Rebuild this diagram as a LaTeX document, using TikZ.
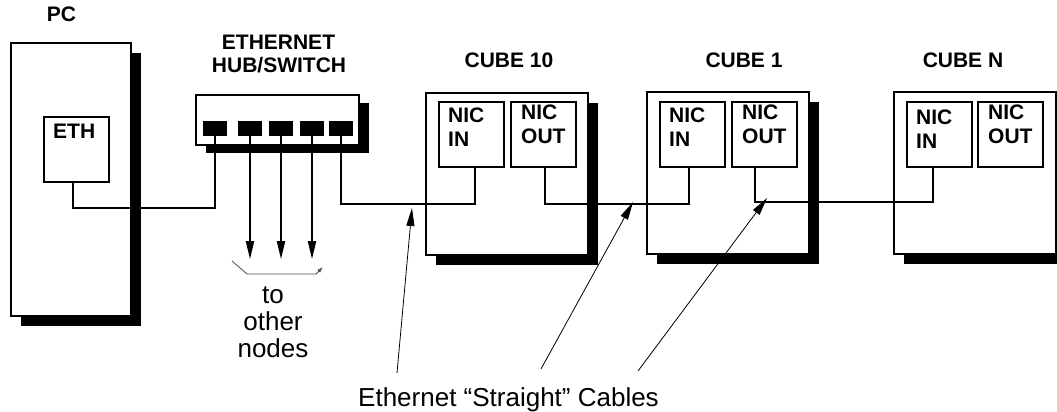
\documentclass[tikz,border=0pt]{standalone}
\usepackage{fontspec}
\setmainfont{Liberation Sans}
\usetikzlibrary{shadows,arrows.meta}
\begin{document}
\begin{tikzpicture}[x=1pt,y=-1pt,
  box/.style={draw, line width=2pt, fill=white, inner sep=0pt},
  shadowed/.style={drop shadow={shadow xshift=10pt, shadow yshift=-10pt, opacity=1, fill=black}},
  nic/.style={box, minimum width=65pt, minimum height=65pt},
  cube/.style={box, shadowed, minimum width=162pt, minimum height=162pt},
  port/.style={fill=black, inner sep=0pt, minimum width=24pt, minimum height=15pt},
  lbl/.style={font=\fontsize{21}{24}\selectfont\bfseries, inner sep=0pt},
  note/.style={font=\fontsize{26}{28}\selectfont, inner sep=0pt},
  cable/.style={line width=2pt},
  lead/.style={line width=0.8pt, -{Triangle[length=18pt,width=8pt]}},
  fanout/.style={line width=2pt, -{Triangle[length=18pt,width=8pt]}},
  bracket/.style={line width=0.8pt, black!70, -{Latex[length=6pt,width=4pt]}},
]
\useasboundingbox (0,0) rectangle (1057,412);
\clip (0,0) rectangle (1057,412);

% PC
\node[lbl, anchor=base] (pclbl) at (61.5,22) {PC};
\node[box, shadowed, minimum width=120pt, minimum height=273pt] (pc) at (71,179.5) {};
\node[nic] (eth) at (76.5,149.5) {};
\node[lbl, anchor=north west] (ethlbl) at (53,124) {ETH};

% Hub / switch
\node[lbl, anchor=base] (hubl1) at (278.5,49) {ETHERNET};
\node[lbl, anchor=base] (hubl2) at (279,72) {HUB/SWITCH};
\node[box, drop shadow={shadow xshift=10pt, shadow yshift=-8pt, opacity=1, fill=black},
      minimum width=163pt, minimum height=50pt] (hub) at (277.5,120) {};
\node[port] (p1) at (215,128.5) {};
\node[port] (p2) at (250,128.5) {};
\node[port] (p3) at (281,128.5) {};
\node[port] (p4) at (312,128.5) {};
\node[port] (p5) at (341,128.5) {};

% fan-out arrows
\draw[fanout] (p2.south) -- ++(0,123);
\draw[fanout] (p3.south) -- ++(0,123);
\draw[fanout] (p4.south) -- ++(0,123);
\coordinate (b1) at (232,261);
\coordinate (b2) at (247,274);
\coordinate (b3) at (316,274);
\coordinate (b4) at (323,267);
\draw[bracket] (b1) -- (b2) -- (b3) -- (b4);
\node[note, anchor=base] (to) at (273,303) {to};
\node[note, anchor=base] (other) at (273,330) {other};
\node[note, anchor=base] (nodes) at (273,357) {nodes};

% Cubes
\node[lbl, anchor=base] (c10lbl) at (509,67) {CUBE 10};
\node[lbl, anchor=base] (c1lbl) at (744,67) {CUBE 1};
\node[lbl, anchor=base] (cNlbl) at (963,67) {CUBE N};

\node[cube] (c10) at (507,173.5) {};
\node[cube] (c1) at (728,173) {};
\node[cube] (cN) at (975,173) {};

\node[nic] (c10in) at (471.5,134.5) {};
\node[nic] (c10out) at (543.5,134.5) {};
\node[nic] (c1in) at (692.5,134.5) {};
\node[nic] (c1out) at (764.5,134.5) {};
\node[nic] (cNin) at (939.5,134.5) {};
\node[nic] (cNout) at (1010.5,134.5) {};

\node[lbl, anchor=north west, align=left] (c10inl) at (448,108) {NIC\\IN};
\node[lbl, anchor=north west, align=left] (c10outl) at (521,105) {NIC\\OUT};
\node[lbl, anchor=north west, align=left] (c1inl) at (669,108) {NIC\\IN};
\node[lbl, anchor=north west, align=left] (c1outl) at (742,105) {NIC\\OUT};
\node[lbl, anchor=north west, align=left] (cNinl) at (916,110) {NIC\\IN};
\node[lbl, anchor=north west, align=left] (cNoutl) at (988,105) {NIC\\OUT};

% Cables
\draw[cable] ([xshift=-3.5pt]eth.south) -- ++(0,25) -| (p1.south);
\draw[cable] (p5.south) -- ++(0,68) -| ([xshift=3.5pt]c10in.south);
\draw[cable] ([xshift=1.5pt]c10out.south) -- ++(0,36) -| ([xshift=-3.5pt]c1in.south);
\draw[cable] ([xshift=-9.5pt]c1out.south) -- ++(0,34) -| ([xshift=-6.5pt]cNin.south);

% Cable callout
\node[note, anchor=base] (cables) at (508.5,406) {Ethernet “Straight” Cables};
\coordinate (k1) at (397,373);
\coordinate (k2) at (541,369);
\coordinate (k3) at (638,371);
\coordinate (h1) at (412,208);
\coordinate (h2) at (633,202);
\coordinate (h3) at (767,198);
\draw[lead] (k1) -- (h1);
\draw[lead] (k2) -- (h2);
\draw[lead] (k3) -- (h3);
\end{tikzpicture}
\end{document}
